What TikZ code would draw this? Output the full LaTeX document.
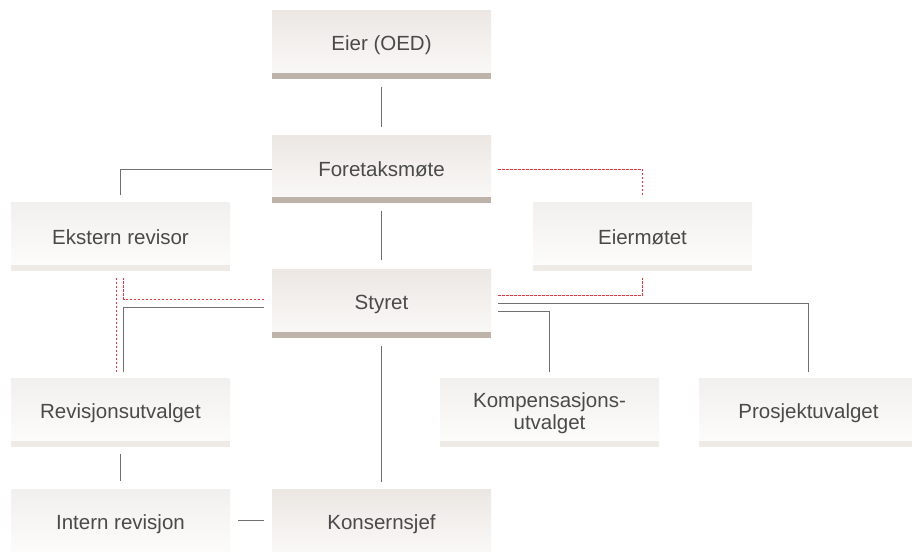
\documentclass[tikz,border=0pt]{standalone}
\usepackage{fontspec}
\setmainfont{Liberation Sans}
\definecolor{maintop}{HTML}{ECE7E3}
\definecolor{mainbot}{HTML}{FBFAF9}
\definecolor{mainbar}{HTML}{BDB3A9}
\definecolor{subtop}{HTML}{F2F0EE}
\definecolor{subbot}{HTML}{FDFDFC}
\definecolor{subbar}{HTML}{EEEAE6}
\definecolor{txt}{HTML}{4A4A4A}
\definecolor{conngray}{HTML}{707070}
\definecolor{connred}{HTML}{F0323C}
\tikzset{
  basebox/.style={minimum width=219pt, minimum height=68pt, inner sep=0pt, outer sep=0pt,
    text=txt, font=\fontsize{20.5}{21.5}\selectfont, align=center},
  mainbox/.style={basebox, top color=maintop, bottom color=mainbot,
    path picture={\fill[mainbar] (path picture bounding box.south west) rectangle ([yshift=6pt]path picture bounding box.south east);}},
  subbox/.style={basebox, top color=subtop, bottom color=subbot,
    path picture={\fill[subbar] (path picture bounding box.south west) rectangle ([yshift=6pt]path picture bounding box.south east);}},
  conn/.style={draw=conngray, line width=1pt},
  redconn/.style={draw=connred, line width=1.4pt, dash pattern=on 2.5pt off 1.5pt},
}
\begin{document}
\begin{tikzpicture}[x=1pt,y=1pt]
\useasboundingbox (0,0) rectangle (912,551);
\node[mainbox] (eier) at (381.5,506) {Eier (OED)};
\node[mainbox] (fore) at (381.5,381.5) {Foretaksmøte};
\node[subbox] (ekstern) at (120.5,314) {Ekstern revisor};
\node[subbox] (eiermote) at (642.5,314) {Eiermøtet};
\node[mainbox] (styret) at (381.5,247) {Styret};
\node[subbox] (revisjon) at (120.5,138) {Revisjonsutvalget};
\node[subbox] (kompen) at (549.5,138) {Kompensasjons-\\utvalget};
\node[subbox] (prosjekt) at (808.5,138) {Prosjektuvalget};
\node[subbox] (intern) at (120.5,27) {Intern revisjon};
\node[mainbox] (konsern) at (381.5,27) {Konsernsjef};

\draw[conn, shorten <=8pt, shorten >=8pt] (eier) -- (fore);
\draw[conn, shorten <=8pt, shorten >=10pt] (fore) -- (styret);
\draw[conn, shorten <=8pt, shorten >=8pt] (styret) -- (konsern);
\draw[conn, shorten <=7pt, shorten >=9pt] (revisjon) -- (intern);
\draw[conn] ([xshift=8pt,yshift=3.5pt]intern.east) -- ([xshift=-8pt,yshift=3.5pt]konsern.west);
\draw[conn] (fore.west) -| ([yshift=8pt]ekstern.north);

\draw[redconn] ([xshift=7pt]fore.east) -| ([yshift=7pt]eiermote.north);
\draw[redconn] ([xshift=7pt,yshift=8.5pt]styret.east) -| ([yshift=-7pt]eiermote.south);
\draw[redconn] ([xshift=-8pt,yshift=4.5pt]styret.west) -| ([xshift=3pt,yshift=-7pt]ekstern.south);
\draw[redconn] ([xshift=-4pt,yshift=-7pt]ekstern.south) -- ([xshift=-4pt,yshift=7pt]revisjon.north);

\draw[conn] ([xshift=-8pt,yshift=-3.5pt]styret.west) -| ([xshift=3pt,yshift=7pt]revisjon.north);
\draw[conn] ([xshift=7pt,yshift=0.5pt]styret.east) -| ([yshift=7pt]prosjekt.north);
\draw[conn] ([xshift=7pt,yshift=-7.5pt]styret.east) -| ([yshift=7pt]kompen.north);
\end{tikzpicture}
\end{document}
